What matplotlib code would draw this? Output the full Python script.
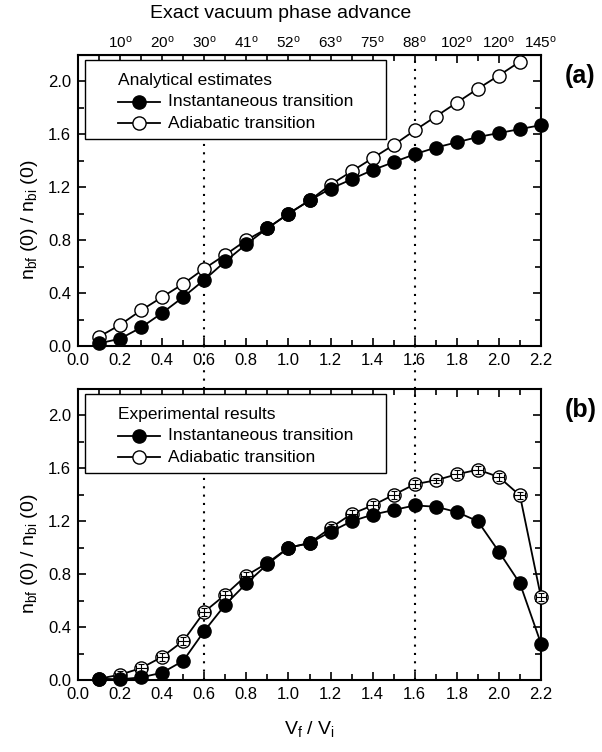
import matplotlib
matplotlib.use('Agg')
import matplotlib.pyplot as plt
from matplotlib.patches import Rectangle
from matplotlib.ticker import MultipleLocator

plt.rcParams['font.family'] = ['Liberation Sans', 'DejaVu Sans']
plt.rcParams['mathtext.fontset'] = 'custom'
plt.rcParams['mathtext.rm'] = 'Liberation Sans'
plt.rcParams['mathtext.it'] = 'Liberation Sans:italic'
plt.rcParams['mathtext.bf'] = 'Liberation Sans:bold'

# ── data ────────────────────────────────────────────────────────────────────
vf_vi = [0.1, 0.2, 0.3, 0.4, 0.5, 0.6, 0.7, 0.8, 0.9, 1.0, 1.1,
         1.2, 1.3, 1.4, 1.5, 1.6, 1.7, 1.8, 1.9, 2.0, 2.1, 2.2]

# (a) analytical estimates
ana_inst = [0.02, 0.055, 0.14, 0.25, 0.37, 0.50, 0.64, 0.77, 0.89, 1.00, 1.10,
            1.19, 1.26, 1.33, 1.39, 1.45, 1.50, 1.54, 1.58, 1.61, 1.64, 1.67]
ana_adia = [0.07, 0.16, 0.27, 0.37, 0.47, 0.585, 0.69, 0.80, 0.89, 1.00, 1.10,
            1.22, 1.32, 1.42, 1.52, 1.63, 1.735, 1.84, 1.945, 2.045, 2.15]

# (b) experimental results
exp_inst = [0.01, 0.005, 0.02, 0.055, 0.145, 0.37, 0.57, 0.73, 0.875, 1.00, 1.035,
            1.12, 1.20, 1.25, 1.285, 1.32, 1.31, 1.27, 1.20, 0.97, 0.73, 0.275]
exp_adia = [0.01, 0.04, 0.09, 0.175, 0.295, 0.515, 0.645, 0.79, 0.885, 1.00, 1.035,
            1.15, 1.255, 1.32, 1.40, 1.48, 1.51, 1.555, 1.59, 1.535, 1.395, 0.625]
exp_adia_err = [0.02, 0.03, 0.03, 0.03, 0.03, 0.03, 0.03, 0.03, 0.03, 0.03, 0.03,
                0.03, 0.03, 0.03, 0.03, 0.03, 0.02, 0.03, 0.03, 0.03, 0.03, 0.03]

# top axis: exact vacuum phase advance
phase_pos = [0.2, 0.4, 0.6, 0.8, 1.0, 1.2, 1.4, 1.6, 1.8, 2.0, 2.2]
phase_deg = ['10', '20', '30', '41', '52', '63', '75', '88', '102', '120', '145']

guide_x = [0.6, 1.6]

# ── figure ──────────────────────────────────────────────────────────────────
W, H = 602, 752
fig = plt.figure(figsize=(W/100, H/100), dpi=100)
fig.patch.set_facecolor('white')
ax_a = fig.add_axes([78/W, 1-346/H, 463/W, 291/H])
ax_b = fig.add_axes([78/W, 1-680/H, 463/W, 291/H])

MS = 9.5
LW = 1.3


def style(ax):
    ax.set_xlim(0, 2.2)
    ax.set_ylim(0, 2.2)
    ax.xaxis.set_major_locator(MultipleLocator(0.2))
    ax.xaxis.set_minor_locator(MultipleLocator(0.1))
    ax.yaxis.set_major_locator(MultipleLocator(0.4))
    ax.yaxis.set_minor_locator(MultipleLocator(0.2))
    ax.xaxis.set_major_formatter(lambda v, p: f'{v:.1f}')
    ax.yaxis.set_major_formatter(lambda v, p: f'{v:.1f}')
    ax.tick_params(which='both', direction='in', top=True, right=True,
                   width=1.2, labelsize=12, pad=5)
    ax.tick_params(which='major', length=6)
    ax.tick_params(which='minor', length=4)
    for s in ax.spines.values():
        s.set_linewidth(1.5)
    ax.set_ylabel(r'n$_{\mathrm{bf}}$ (0) / n$_{\mathrm{bi}}$ (0)', fontsize=14)
    ax.yaxis.set_label_coords(-0.082, 0.433)
    for gx in guide_x:
        ax.axvline(gx, color='black', lw=1.5, linestyle=(0, (1, 3)), zorder=1)


def legend_box(ax, title):
    ax.add_patch(Rectangle((0.015, 0.711), 0.65, 0.272, transform=ax.transAxes,
                           fc='white', ec='black', lw=1, zorder=5))
    ax.text(0.086, 0.914, title, transform=ax.transAxes, fontsize=12.5,
            ha='left', va='center', zorder=6)
    rows = [(0.8395, 'black', 'Instantaneous transition'),
            (0.765, 'white', 'Adiabatic transition')]
    for y, fc, label in rows:
        ax.plot([0.086, 0.177], [y, y], color='black', lw=LW,
                transform=ax.transAxes, zorder=6)
        ax.plot([0.1315], [y], 'o', ms=MS, mfc=fc, mec='black', mew=1,
                transform=ax.transAxes, zorder=7)
        ax.text(0.194, y, label, transform=ax.transAxes, fontsize=12.5,
                ha='left', va='center', zorder=6)


# ── (a) analytical ──────────────────────────────────────────────────────────
style(ax_a)
ax_a.plot(vf_vi[:len(ana_adia)], ana_adia, '-o', color='black', lw=LW,
          ms=MS, mfc='white', mec='black', mew=1, zorder=3, clip_on=False)
ax_a.plot(vf_vi, ana_inst, '-o', color='black', lw=LW,
          ms=MS, mfc='black', mec='black', zorder=4, clip_on=False)
legend_box(ax_a, 'Analytical estimates')
ax_a.text(1.052, 0.928, '(a)', transform=ax_a.transAxes, fontsize=18,
          fontweight='bold', ha='left', va='center')

top = ax_a.secondary_xaxis('top')
top.set_xticks(phase_pos, [d + r'$^{\mathrm{o}}$' for d in phase_deg])
top.tick_params(direction='in', length=0, labelsize=11, pad=3)

# ── (b) experimental ────────────────────────────────────────────────────────
style(ax_b)
ax_b.plot(vf_vi, exp_adia, '-o', color='black', lw=LW,
          ms=MS, mfc='white', mec='black', mew=1, zorder=3, clip_on=False)
ax_b.errorbar(vf_vi, exp_adia, yerr=exp_adia_err, xerr=0.026, fmt='none',
              ecolor='black', elinewidth=0.8, capsize=2.5, capthick=0.8,
              zorder=3.5, clip_on=False)
ax_b.plot(vf_vi, exp_inst, '-o', color='black', lw=LW,
          ms=MS, mfc='black', mec='black', zorder=4, clip_on=False)
legend_box(ax_b, 'Experimental results')
ax_b.text(1.052, 0.928, '(b)', transform=ax_b.transAxes, fontsize=18,
          fontweight='bold', ha='left', va='center')
ax_b.set_xlabel(r'V$_{\mathrm{f}}$ / V$_{\mathrm{i}}$', fontsize=14, labelpad=12)

# dotted guides continue through the gap between the panels
pa, pb = ax_a.get_position(), ax_b.get_position()
y_ext = 2.2 + (pa.y0 - pb.y1) / pb.height * 2.2
for gx in guide_x:
    ax_b.plot([gx, gx], [2.2, y_ext], color='black', lw=1.5,
              linestyle=(0, (1, 3)), clip_on=False, zorder=1)

fig.text(281/W, 1-13/H, 'Exact vacuum phase advance', fontsize=14,
         ha='center', va='center')

fig.savefig('out.png', dpi=100, facecolor='white')
